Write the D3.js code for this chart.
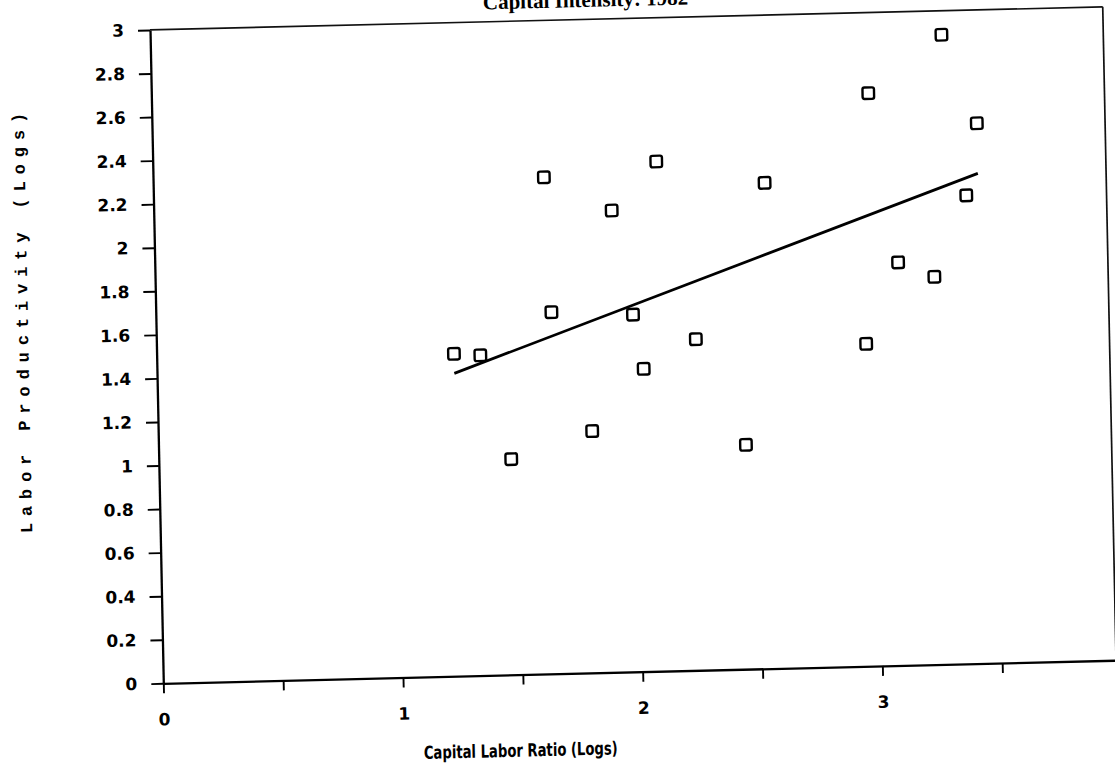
<!DOCTYPE html>
<html>
<head>
<meta charset="utf-8">
<script src="https://cdn.jsdelivr.net/npm/d3@7"></script>
<style>
  html, body { margin: 0; padding: 0; background: #fff; }
  svg { display: block; }
</style>
</head>
<body>
<svg id="chart" width="1115" height="776"></svg>
<script>
// ---- data ----
const capitalLaborRatio = [1.24, 1.35, 1.47, 1.63, 1.65, 1.81, 1.91, 1.99, 2.03, 2.10,
                           2.25, 2.45, 2.55, 3.30, 2.99, 3.44, 3.39, 3.10, 3.25, 2.96];
const laborProductivity = [1.48, 1.47, 0.99, 2.28, 1.66, 1.11, 2.12, 1.64, 1.39, 2.34,
                           1.52, 1.03, 2.23, 2.89, 2.63, 2.48, 2.15, 1.85, 1.78, 1.48];
const fitX = [1.24, 3.44];
const fitY = [1.39, 2.25];
const xTicks = [0, 0.5, 1, 1.5, 2, 2.5, 3, 3.5, 4];
const xTickLabels = ["0", "", "1", "", "2", "", "3", "", "4"];
const yTicks = [0, 0.2, 0.4, 0.6, 0.8, 1, 1.2, 1.4, 1.6, 1.8, 2, 2.2, 2.4, 2.6, 2.8, 3];
const yTickLabels = ["0", "0.2", "0.4", "0.6", "0.8", "1", "1.2", "1.4", "1.6", "1.8",
                     "2", "2.2", "2.4", "2.6", "2.8", "3"];
const titleText = "Capital Intensity: 1982";
const xTitle = "Capital Labor Ratio (Logs)";
const yTitle = "Labor Productivity (Logs)";

// ---- layout ----
const svg = d3.select("#chart");
svg.append("rect").attr("width", 1115).attr("height", 776).attr("fill", "#fff");

// the scanned page is slightly rotated; reproduce it with one transform
const g = svg.append("g")
  .attr("transform", "matrix(0.99971,-0.02419,0.02035,0.99979,163.3,683.3)");

const x = d3.scaleLinear().domain([0, 4]).range([0, 959]);
const y = d3.scaleLinear().domain([0, 3]).range([0, -653.5]);

const tickFont = "'DejaVu Sans', sans-serif";

// frame (top and right)
g.append("line")
  .attr("x1", x(0)).attr("x2", x(3.975))
  .attr("y1", y(3)).attr("y2", y(3))
  .attr("stroke", "#111").attr("stroke-width", 1.7);
g.append("line")
  .attr("x1", x(3.975)).attr("x2", x(3.975))
  .attr("y1", y(3)).attr("y2", y(0))
  .attr("stroke", "#111").attr("stroke-width", 1.7);

// x axis
const xAxis = g.append("g")
  .call(d3.axisBottom(x).tickValues(xTicks).tickSize(10).tickSizeOuter(0)
    .tickPadding(20).tickFormat((d, i) => xTickLabels[i]));
// y axis
const yAxis = g.append("g")
  .call(d3.axisLeft(y).tickValues(yTicks).tickSize(12).tickSizeOuter(0)
    .tickPadding(14).tickFormat((d, i) => yTickLabels[i]));

[xAxis, yAxis].forEach(a => {
  a.select(".domain").attr("stroke", "#000").attr("stroke-width", 2.3);
  a.selectAll(".tick line").attr("stroke", "#000").attr("stroke-width", 1.9);
  a.selectAll(".tick text")
    .attr("fill", "#000")
    .style("font-family", tickFont)
    .style("font-weight", "bold")
    .style("font-size", "17px");
});

// regression line
g.append("path")
  .datum(fitX.map((v, i) => [v, fitY[i]]))
  .attr("d", d3.line().x(d => x(d[0])).y(d => y(d[1])))
  .attr("fill", "none").attr("stroke", "#000").attr("stroke-width", 2.8);

// square markers
const s = 11.5;
g.append("g").selectAll("rect")
  .data(capitalLaborRatio.map((v, i) => [v, laborProductivity[i]]))
  .join("rect")
  .attr("x", d => x(d[0]) - s / 2)
  .attr("y", d => y(d[1]) - s / 2)
  .attr("width", s).attr("height", s)
  .attr("rx", 2).attr("ry", 2)
  .attr("fill", "none").attr("stroke", "#000").attr("stroke-width", 2.4);

// title (mostly cut off at the top of the scan, as in the original)
g.append("text")
  .attr("x", 436).attr("y", -666)
  .attr("text-anchor", "middle")
  .style("font-family", "'Liberation Serif', serif")
  .style("font-weight", "bold")
  .style("font-size", "21px")
  .text(titleText);

// x-axis title
g.append("text")
  .attr("x", 356).attr("y", 82)
  .attr("text-anchor", "middle")
  .attr("textLength", 194)
  .attr("lengthAdjust", "spacingAndGlyphs")
  .style("font-family", "'DejaVu Sans Condensed', 'DejaVu Sans', sans-serif")
  .style("font-weight", "bold")
  .style("font-size", "18px")
  .text(xTitle);

// y-axis title
g.append("text")
  .attr("transform", "translate(-134,-367) rotate(-90)")
  .attr("text-anchor", "middle")
  .attr("dy", "0.35em")
  .style("font-family", "'Liberation Mono', monospace")
  .style("font-weight", "bold")
  .style("font-size", "17px")
  .style("letter-spacing", "6.9px")
  .text(yTitle);
</script>
</body>
</html>
